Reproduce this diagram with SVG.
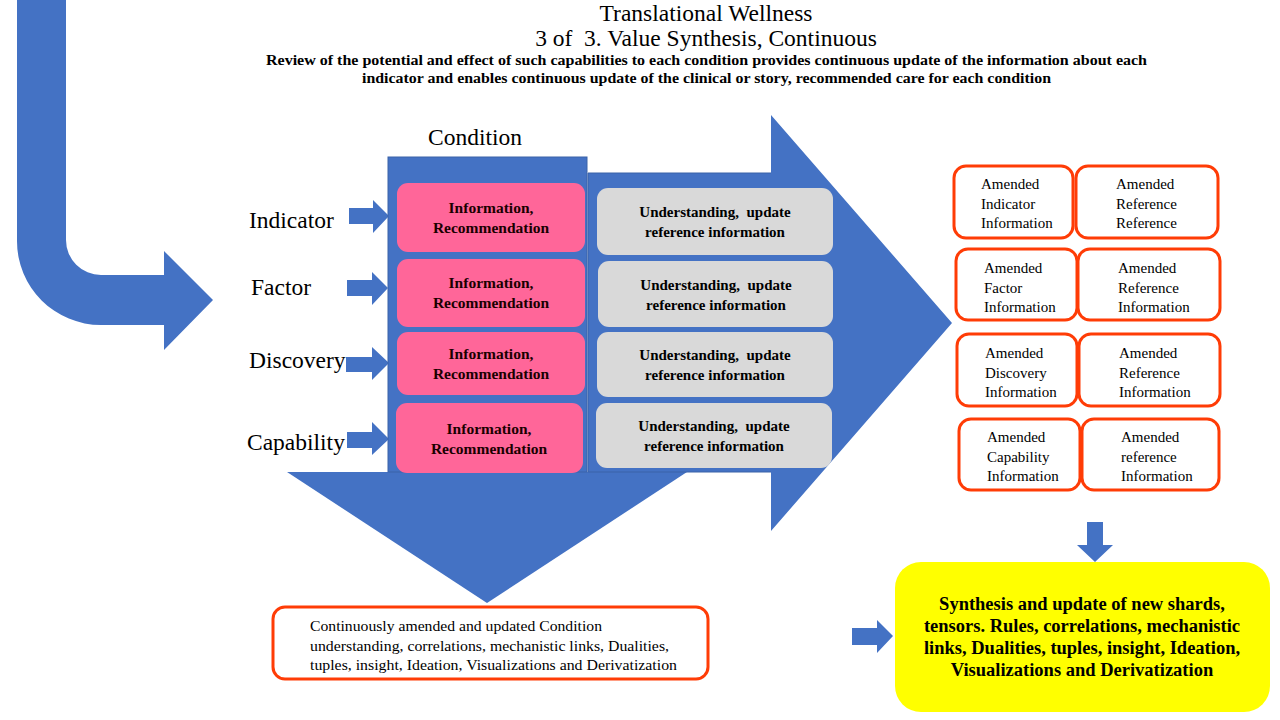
<svg xmlns="http://www.w3.org/2000/svg" width="1280" height="720" viewBox="0 0 1280 720">
<style>
.blue{fill:#4472C4}
.t{font-family:"Liberation Serif","Times New Roman",serif;fill:#000}
.lbl{font-size:23.5px}
.pink{fill:#FF6699}
.grey{fill:#D9D9D9}
.pt{font-size:15.5px;font-weight:bold;text-anchor:middle;fill:#1a0000}
.gt{font-size:15px;font-weight:bold;text-anchor:middle;white-space:pre}
.ob{fill:#fff;stroke:#FF3C06;stroke-width:3}
.rt{font-size:15px}
</style>
<rect width="1280" height="720" fill="#fff"/>
<g id="title">
<text class="t" x="706" y="21" font-size="23.5" text-anchor="middle">Translational Wellness</text>
<text class="t" x="706" y="46" font-size="23.5" text-anchor="middle" xml:space="preserve">3 of  3. Value Synthesis, Continuous</text>
<text class="t" x="266" y="65" font-size="14" font-weight="bold" textLength="881" lengthAdjust="spacingAndGlyphs">Review of the potential and effect of such capabilities to each condition provides continuous update of the information about each</text>
<text class="t" x="362" y="83" font-size="14" font-weight="bold" textLength="689" lengthAdjust="spacingAndGlyphs">indicator and enables continuous update of the clinical or story, recommended care for each condition</text>
</g>
<g id="connectors">
<path id="bent-arrow" class="blue" d="M17,0 H66 V240 A35,35 0 0 0 101,275 H164 V251 L213,300 L164,350 V325 H101 A84,84 0 0 1 17,241 Z"/>
<path id="big-right-arrow" class="blue" d="M588,173 H771 V115 L952,323 L771,531 V472 H588 Z"/>
<path id="down-arrow" class="blue" d="M287,472 H687 L487,603 Z"/>
<path d="M771,173 H588 V472 H771" fill="none" stroke="#3A62A8" stroke-width="1"/>
<path id="arr-indicator" class="blue" d="M349,208 H373 V200 L389,216 L373,233 V224 H349 Z"/>
<path id="arr-factor" class="blue" d="M347,280 H372 V272 L388,288 L372,305 V296 H347 Z"/>
<path id="arr-discovery" class="blue" d="M346,357 H372 V347 L389,363 L372,380 V372 H346 Z"/>
<path id="arr-capability" class="blue" d="M347,432 H372 V422 L389,439 L372,455 V448 H347 Z"/>
<path id="arr-down-yellow" class="blue" d="M1087,522 H1103 V545 H1113 L1095,562 L1077,545 H1087 Z"/>
<path id="arr-right-yellow" class="blue" d="M852,628 H877 V620 L893,636 L877,653 V645 H852 Z"/>
</g>
<g id="labels">
<text class="t lbl" x="249" y="228">Indicator</text>
<text class="t lbl" x="251" y="295">Factor</text>
<text class="t lbl" x="249" y="368">Discovery</text>
<text class="t lbl" x="247" y="450">Capability</text>
</g>
<g id="condition">
<rect x="388" y="157" width="199" height="315" class="blue" stroke="#3A62A8" stroke-width="1"/>
<text class="t lbl" x="475" y="145" text-anchor="middle">Condition</text>
</g>
<g id="pink-1"><rect x="397" y="183" width="188" height="69" rx="11" class="pink"/><text class="t pt" x="491" y="213">Information,</text><text class="t pt" x="491" y="233">Recommendation</text></g>
<g id="pink-2"><rect x="397" y="259" width="188" height="68" rx="11" class="pink"/><text class="t pt" x="491" y="288">Information,</text><text class="t pt" x="491" y="308">Recommendation</text></g>
<g id="pink-3"><rect x="397" y="332" width="188" height="63" rx="11" class="pink"/><text class="t pt" x="491" y="359">Information,</text><text class="t pt" x="491" y="379">Recommendation</text></g>
<g id="pink-4"><rect x="396" y="403" width="187" height="70" rx="11" class="pink"/><text class="t pt" x="489" y="434">Information,</text><text class="t pt" x="489" y="454">Recommendation</text></g>
<g id="grey-1"><rect x="597" y="188" width="236" height="67" rx="11" class="grey"/><text class="t gt" x="715" y="217" xml:space="preserve">Understanding,  update</text><text class="t gt" x="715" y="237">reference information</text></g>
<g id="grey-2"><rect x="598" y="261" width="235" height="66" rx="11" class="grey"/><text class="t gt" x="716" y="290" xml:space="preserve">Understanding,  update</text><text class="t gt" x="716" y="310">reference information</text></g>
<g id="grey-3"><rect x="597" y="332" width="236" height="65" rx="11" class="grey"/><text class="t gt" x="715" y="360" xml:space="preserve">Understanding,  update</text><text class="t gt" x="715" y="380">reference information</text></g>
<g id="grey-4"><rect x="596" y="403" width="236" height="65" rx="11" class="grey"/><text class="t gt" x="714" y="431" xml:space="preserve">Understanding,  update</text><text class="t gt" x="714" y="451">reference information</text></g>
<g id="amended-indicator"><rect x="954" y="166" width="119" height="72" rx="12" class="ob"/><text class="t rt" x="981" y="189">Amended</text><text class="t rt" x="981" y="209">Indicator</text><text class="t rt" x="981" y="228">Information</text></g>
<g id="amended-ref-1"><rect x="1076" y="166" width="142" height="72" rx="12" class="ob"/><text class="t rt" x="1116" y="189">Amended</text><text class="t rt" x="1116" y="209">Reference</text><text class="t rt" x="1116" y="228">Reference</text></g>
<g id="amended-factor"><rect x="956" y="249" width="121" height="71" rx="12" class="ob"/><text class="t rt" x="984" y="273">Amended</text><text class="t rt" x="984" y="293">Factor</text><text class="t rt" x="984" y="312">Information</text></g>
<g id="amended-ref-2"><rect x="1078" y="249" width="142" height="71" rx="12" class="ob"/><text class="t rt" x="1118" y="273">Amended</text><text class="t rt" x="1118" y="293">Reference</text><text class="t rt" x="1118" y="312">Information</text></g>
<g id="amended-discovery"><rect x="957" y="334" width="120" height="72" rx="12" class="ob"/><text class="t rt" x="985" y="358">Amended</text><text class="t rt" x="985" y="378">Discovery</text><text class="t rt" x="985" y="397">Information</text></g>
<g id="amended-ref-3"><rect x="1079" y="334" width="141" height="72" rx="12" class="ob"/><text class="t rt" x="1119" y="358">Amended</text><text class="t rt" x="1119" y="378">Reference</text><text class="t rt" x="1119" y="397">Information</text></g>
<g id="amended-capability"><rect x="959" y="419" width="121" height="71" rx="12" class="ob"/><text class="t rt" x="987" y="442">Amended</text><text class="t rt" x="987" y="462">Capability</text><text class="t rt" x="987" y="481">Information</text></g>
<g id="amended-ref-4"><rect x="1082" y="419" width="137" height="71" rx="12" class="ob"/><text class="t rt" x="1121" y="442">Amended</text><text class="t rt" x="1121" y="462">reference</text><text class="t rt" x="1121" y="481">Information</text></g>
<g id="condition-summary"><rect x="273" y="607" width="435" height="72" rx="12" class="ob"/>
<text class="t" x="310" y="631" font-size="14.5" textLength="292" lengthAdjust="spacingAndGlyphs">Continuously amended and updated Condition</text>
<text class="t" x="310" y="651" font-size="14.5" textLength="359" lengthAdjust="spacingAndGlyphs">understanding, correlations, mechanistic links, Dualities,</text>
<text class="t" x="310" y="670" font-size="14.5" textLength="367" lengthAdjust="spacingAndGlyphs">tuples, insight, Ideation, Visualizations and Derivatization</text>
</g>
<g id="synthesis"><rect x="895" y="562" width="375" height="150" rx="26" fill="#FFFF00"/>
<text class="t" x="1082" y="610" font-size="18.5" font-weight="bold" text-anchor="middle">Synthesis and update of new shards,</text>
<text class="t" x="1082" y="632" font-size="18.5" font-weight="bold" text-anchor="middle">tensors. Rules, correlations, mechanistic</text>
<text class="t" x="1082" y="654" font-size="18.5" font-weight="bold" text-anchor="middle">links, Dualities, tuples, insight, Ideation,</text>
<text class="t" x="1082" y="676" font-size="18.5" font-weight="bold" text-anchor="middle">Visualizations and Derivatization</text>
</g>
</svg>
